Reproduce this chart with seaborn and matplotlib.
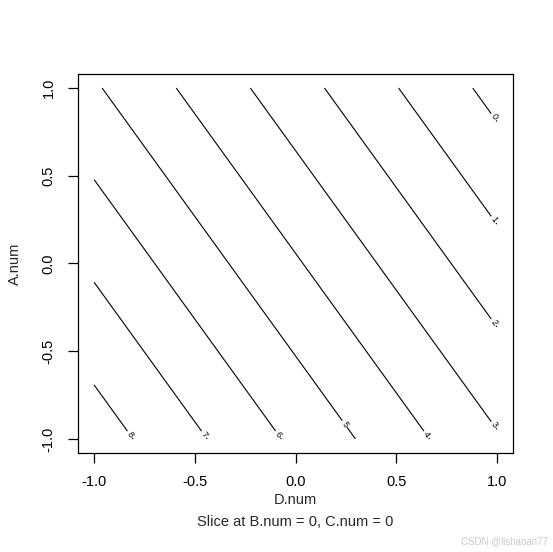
import matplotlib
matplotlib.use("Agg")
import matplotlib.pyplot as plt
import numpy as np
import seaborn as sns

# fitted linear surface (slice at B.num = 0, C.num = 0)
intercept = 4.10
slope_D = -2.717
slope_A = -1.709
levels = [0, 1, 2, 3, 4, 5, 6, 7, 8]
ticks = [-1.0, -0.5, 0.0, 0.5, 1.0]
tick_labels = ["-1.0", "-0.5", "0.0", "0.5", "1.0"]

sns.set_style("white")
plt.rcParams["font.family"] = ["Liberation Sans", "DejaVu Sans"]

fig = plt.figure(figsize=(5.53, 5.52), dpi=100)
ax = fig.add_axes([78 / 553, 1 - 453 / 552, 435 / 553, 379 / 552])

D = np.linspace(-1, 1, 201)
A = np.linspace(-1, 1, 201)
DD, AA = np.meshgrid(D, A)
Z = intercept + slope_D * DD + slope_A * AA

cs = ax.contour(DD, AA, Z, levels=levels, colors="black", linewidths=0.8)

# put each label close to the lower-right end of its contour, like R does
manual = []
for lev, segs in zip(levels, cs.allsegs):
    seg = max(segs, key=len)
    end = seg[np.argmax(seg[:, 0] - seg[:, 1])]
    other = seg[np.argmin(seg[:, 0] - seg[:, 1])]
    direc = (other - end) / np.linalg.norm(other - end)
    back = 0.1 if lev == 5 else 0.03
    manual.append(end + back * direc)
ax.clabel(cs, levels=levels, manual=manual, inline=True, fontsize=6.5,
          fmt="%d", inline_spacing=2)

ax.set_xlim(-1.08, 1.08)
ax.set_ylim(-1.08, 1.08)
ax.set_xticks(ticks)
ax.set_xticklabels(tick_labels)
ax.set_yticks(ticks)
ax.set_yticklabels(tick_labels, rotation=90, va="center")
ax.tick_params(axis="both", direction="out", length=7, width=0.9,
               labelsize=10.5, colors="black", pad=9,
               bottom=True, left=True)
for s in ax.spines.values():
    s.set_color("black")
    s.set_linewidth(0.9)

ax.set_xlabel("D.num", fontsize=10.5, labelpad=3)
ax.set_ylabel("A.num", fontsize=10.5, labelpad=14)
fig.text(0.5 * (78 + 513) / 553, 1 - 522 / 552,
         "Slice at B.num = 0, C.num = 0", ha="center", va="center",
         fontsize=10.5)
fig.text(548 / 553, 1 - 541 / 552, "CSDN @lishaoan77", ha="right",
         va="center", fontsize=7, color="#c8c8c8")

fig.savefig("out.png", dpi=100)
